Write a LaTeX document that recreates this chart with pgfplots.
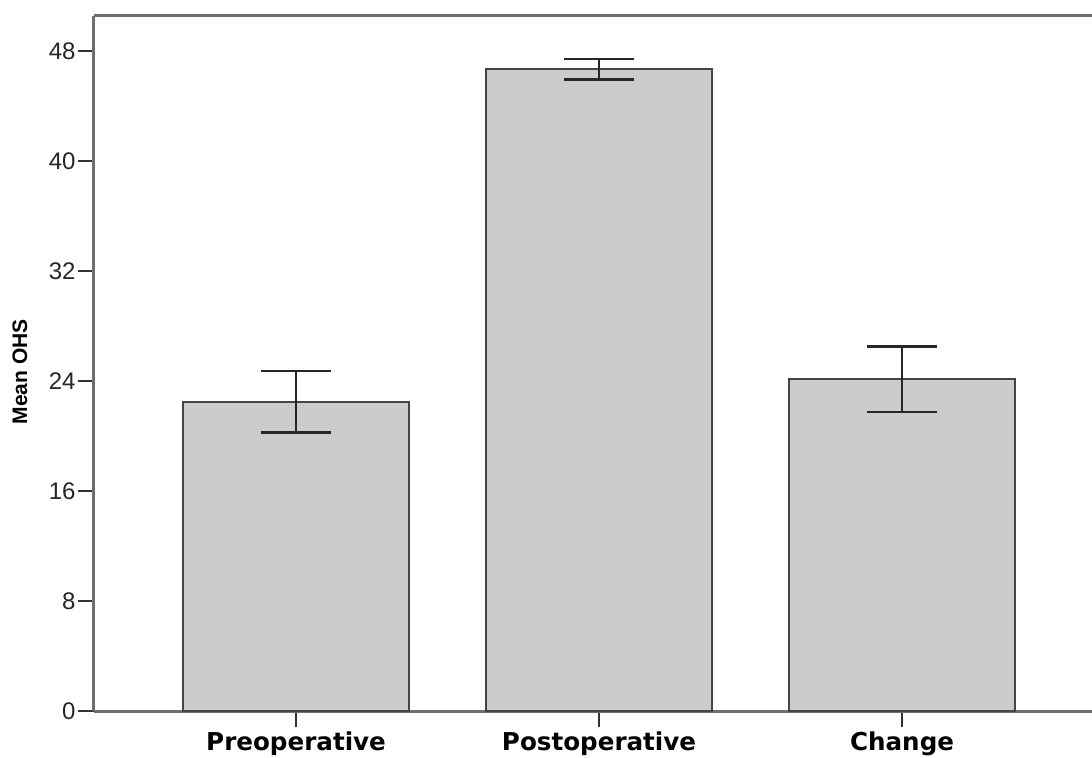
\documentclass[border=0pt]{standalone}
\usepackage{pgfplots}
\pgfplotsset{compat=1.18}
\usepackage{fontspec}
\setmainfont{Liberation Sans}
\newfontfamily\labfont{DejaVu Sans}
\definecolor{barfill}{HTML}{CCCCCC}
\definecolor{baredge}{HTML}{444444}
\definecolor{axisgray}{HTML}{6E6E6E}
\begin{document}
\begin{tikzpicture}
\useasboundingbox (-47pt,-23pt) rectangle (499pt,355.5pt);
\begin{axis}[
  at={(0,0)}, anchor=south west,
  scale only axis,
  width=499pt, height=347.5pt,
  xmin=-0.667, xmax=2.627,
  ymin=0, ymax=50.55,
  axis x line*=bottom, axis y line*=left,
  axis line style={axisgray, line width=1.5pt, -},
  xtick={0,1,2},
  xticklabels={Preoperative,Postoperative,Change},
  ytick={0,8,16,24,32,40,48},
  tick align=outside,
  major tick length=8pt,
  tick style={black!80, line width=1pt},
  /pgf/number format/assume math mode=true,
  yticklabel style={font=\fontsize{12}{14}\selectfont, inner sep=1pt, text=black!85},
  xticklabel style={font=\labfont\bfseries\fontsize{12.3}{14}\selectfont, inner sep=1pt, yshift=-1pt},
  ylabel={Mean OHS},
  ylabel style={font=\bfseries\fontsize{10.5}{12}\selectfont, at={(axis description cs:0,0.488)}, anchor=center, yshift=37pt},
  extra description/.code={\draw[axisgray, line width=1.5pt] (rel axis cs:0,1) -- (rel axis cs:1,1);},
  clip=false,
]
\addplot[ybar, bar width=113pt, fill=barfill, draw=baredge, line width=1.1pt,
  error bars/.cd, y dir=both, y explicit,
  error bar style={black!85, line width=1.3pt},
  error mark options={rotate=90, mark size=17.5pt, line width=1.3pt, black!85}]
  coordinates {
    (0,22.49) +- (0,2.25)
    (1,46.67) +- (0,0.75)
    (2,24.12) +- (0,2.37)
  };
\end{axis}
\end{tikzpicture}
\end{document}
